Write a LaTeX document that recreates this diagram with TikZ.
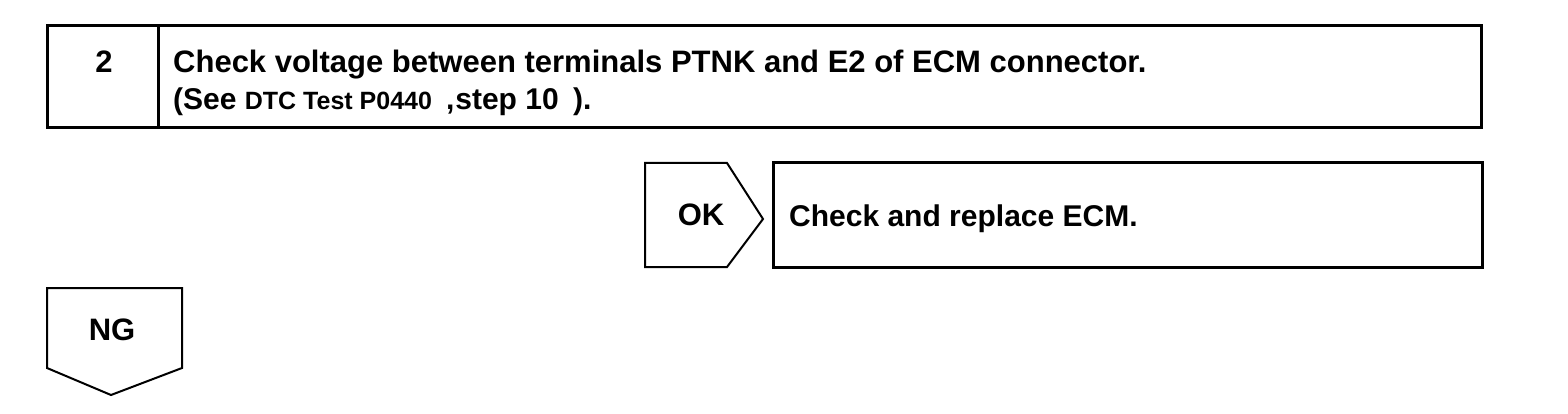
\documentclass[tikz,border=0pt]{standalone}
\usepackage{fontspec}
\setmainfont{Liberation Sans}
\begin{document}
\begin{tikzpicture}[x=1pt,y=-1pt,
  heavy/.style={line width=3pt},
  light/.style={line width=2pt},
  big/.style={font=\bfseries\fontsize{31}{36}\selectfont,inner sep=0pt},
  small/.style={font=\bfseries\fontsize{30}{34}\selectfont,inner sep=0pt}]
\useasboundingbox (0,0) rectangle (1568,414);

% Step box
\draw[heavy] (47,26) rectangle (1481,128);
\draw[heavy] (158,26) -- (158,128);
\node[big] (num) at (104,62) {2};
\node[big,anchor=base west] (title) at (173,73)
    {Check voltage between terminals PTNK and E2 of ECM connector.};
\node[small,anchor=base west] (ref) at (173,110)
    {(See {\fontsize{25}{28}\selectfont DTC Test P0440}\hspace{14pt},\hspace{1pt}step 10\hspace{6pt} ).};

% OK branch
\draw[light] (645,163) -- (727,163) -- (763,219) -- (727,267) -- (645,267) -- cycle;
\node[big] (ok) at (701,215) {OK};
\draw[heavy] (773,163) rectangle (1482,267);
\node[small,anchor=base west] (fix) at (789,226) {Check and replace ECM.};

% NG branch
\draw[light] (47,288) -- (182,288) -- (182,368) -- (111,395) -- (47,368) -- cycle;
\node[big] (ng) at (112,330) {NG};

\end{tikzpicture}
\end{document}
